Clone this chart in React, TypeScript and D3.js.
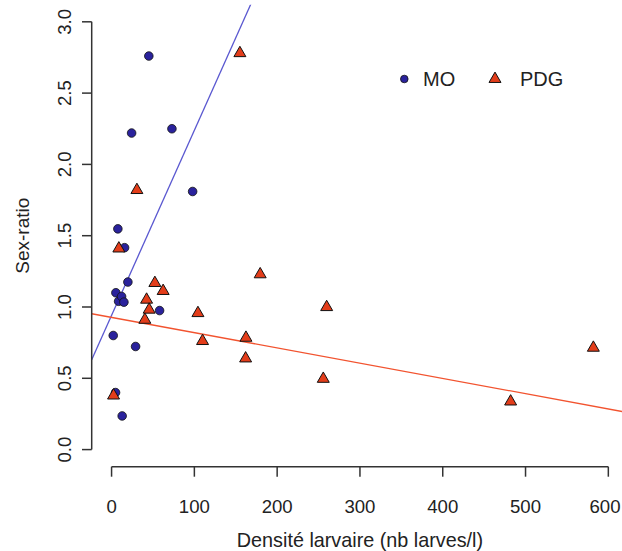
import React from "react";
import * as d3 from "d3";

const moX = [45, 24.2, 72.9, 97.9, 7.6, 15.7, 19.7, 5.2, 8.5, 12.1, 14.9, 58, 2, 29, 4.8, 12.8];
const moY = [2.76, 2.22, 2.25, 1.81, 1.548, 1.416, 1.175, 1.1, 1.04, 1.074, 1.034, 0.975, 0.8, 0.723, 0.4, 0.236];

const pdgX = [155, 30.6, 8.8, 179.5, 52.3, 62.3, 42.3, 45.4, 40.2, 104.3, 109.9, 162.3, 161.9, 2.4, 259.8, 255.7, 482, 581.9];
const pdgY = [2.78, 1.82, 1.41, 1.229, 1.168, 1.112, 1.051, 0.981, 0.91, 0.957, 0.761, 0.784, 0.639, 0.379, 0.999, 0.496, 0.337, 0.714];

// regression lines: [intercept, slope]
const moFit = [0.941, 0.01298];
const pdgFit = [0.927, -0.00107];

const xTicks = [0, 100, 200, 300, 400, 500, 600];
const yTicks = [0, 0.5, 1, 1.5, 2, 2.5, 3];
const yTickLabels = ["0.0", "0.5", "1.0", "1.5", "2.0", "2.5", "3.0"];

const seriesNames = ["MO", "PDG"];
const xTitle = "Densité larvaire (nb larves/l)";
const yTitle = "Sex-ratio";

const W = 622;
const H = 551;
const FONT = "'Liberation Sans', Arial, Helvetica, sans-serif";

const BLUE_FILL = "#2a229c";
const BLUE_LINE = "#5a58d0";
const RED_FILL = "#e33d1a";
const RED_LINE = "#f2532f";

export default function App() {
  const xDom: [number, number] = [-24, 624];
  const yDom: [number, number] = [-0.12, 3.12];
  const x = d3.scaleLinear().domain(xDom).range([91.7, 628.2]);
  const y = d3.scaleLinear().domain(yDom).range([466.7, 4.7]);

  const tri = d3.symbol().type(d3.symbolTriangle).size(62)();

  const lineFor = (fit: number[]) => {
    const pts: [number, number][] = [xDom[0], xDom[1]].map((v) => [v, fit[0] + fit[1] * v]);
    return d3.line<[number, number]>().x((d) => x(d[0])).y((d) => y(d[1]))(pts) || "";
  };

  const axisColor = "#333";
  const tickFont = 18.6;

  return (
    <svg width={W} height={H} style={{ position: "absolute", left: 0, top: 0, background: "#fff" }}
      fontFamily={FONT}>
      <defs>
        <clipPath id="plot">
          <rect x={x(xDom[0])} y={y(yDom[1])} width={x(xDom[1]) - x(xDom[0])} height={y(yDom[0]) - y(yDom[1])} />
        </clipPath>
      </defs>
      {/* regression lines */}
      <g clipPath="url(#plot)" fill="none" strokeWidth={1.3}>
        <path d={lineFor(moFit)} stroke={BLUE_LINE} />
        <path d={lineFor(pdgFit)} stroke={RED_LINE} />
      </g>
      {/* MO points */}
      <g>
        {moX.map((v, i) => (
          <circle key={"m" + i} cx={x(v)} cy={y(moY[i])} r={4.3} fill={BLUE_FILL} stroke="#111" strokeWidth={0.8} />
        ))}
      </g>
      {/* PDG points */}
      <g>
        {pdgX.map((v, i) => (
          <path key={"p" + i} d={tri || ""} transform={`translate(${x(v)},${y(pdgY[i])})`} fill={RED_FILL} stroke="#111" strokeWidth={1} />
        ))}
      </g>
      {/* X axis */}
      <g stroke={axisColor} strokeWidth={1.5}>
        <line x1={x(xTicks[0])} x2={x(xTicks[xTicks.length - 1])} y1={466.7} y2={466.7} />
        {xTicks.map((t) => (
          <line key={"xt" + t} x1={x(t)} x2={x(t)} y1={466.7} y2={476.7} />
        ))}
      </g>
      <g fontSize={tickFont} fill="#222" textAnchor="middle">
        {xTicks.map((t) => (
          <text key={"xl" + t} x={Math.min(x(t), W - 17)} y={512.5}>{t}</text>
        ))}
      </g>
      {/* Y axis */}
      <g stroke={axisColor} strokeWidth={1.5}>
        <line x1={91.7} x2={91.7} y1={y(yTicks[0])} y2={y(yTicks[yTicks.length - 1])} />
        {yTicks.map((t) => (
          <line key={"yt" + t} x1={82} x2={91.7} y1={y(t)} y2={y(t)} />
        ))}
      </g>
      <g fontSize={tickFont} fill="#222" textAnchor="middle">
        {yTicks.map((t, i) => (
          <text key={"yl" + t} transform={`translate(71,${y(t)}) rotate(-90)`}>{yTickLabels[i]}</text>
        ))}
      </g>
      {/* titles */}
      <text x={x(300)} y={546.5} fontSize={19.8} textAnchor="middle" fill="#222">{xTitle}</text>
      <text transform={`translate(29,${y(1.5)}) rotate(-90)`} fontSize={19} textAnchor="middle" fill="#222">{yTitle}</text>
      {/* legend */}
      <g>
        <circle cx={404.3} cy={79} r={3.8} fill={BLUE_FILL} stroke="#111" strokeWidth={0.8} />
        <text x={423} y={86} fontSize={20} fill="#222">{seriesNames[0]}</text>
        <path d={tri || ""} transform="translate(495,79)" fill={RED_FILL} stroke="#111" strokeWidth={1} />
        <text x={520} y={86} fontSize={20} fill="#222">{seriesNames[1]}</text>
      </g>
    </svg>
  );
}
